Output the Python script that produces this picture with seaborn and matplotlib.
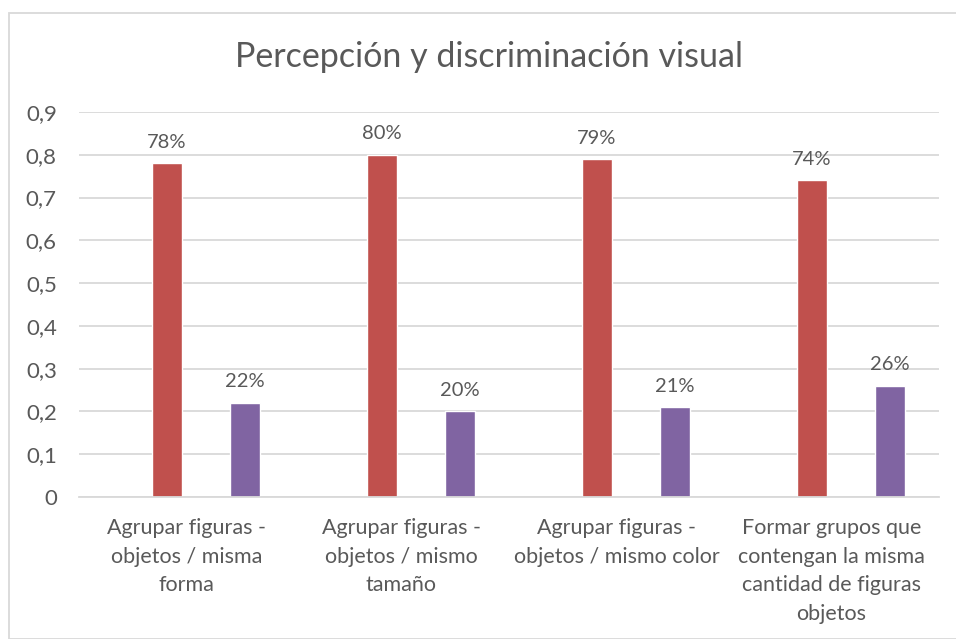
import pandas as pd
import matplotlib.pyplot as plt
import seaborn as sns
from matplotlib.ticker import FuncFormatter
from matplotlib.patches import Rectangle

categories = [
    "Agrupar figuras -\nobjetos / misma\nforma",
    "Agrupar figuras -\nobjetos / mismo\ntamaño",
    "Agrupar figuras -\nobjetos / mismo color",
    "Formar grupos que\ncontengan la misma\ncantidad de figuras\nobjetos",
]
series = ["Serie1", "Serie2", "Serie3", "Serie4"]
serie2 = [0.78, 0.80, 0.79, 0.74]
serie4 = [0.22, 0.20, 0.21, 0.26]
colors = ["#4F81BD", "#C0504D", "#9BBB59", "#8064A2"]

df = pd.concat([
    pd.DataFrame({"cat": categories, "serie": "Serie2", "valor": serie2}),
    pd.DataFrame({"cat": categories, "serie": "Serie4", "valor": serie4}),
])

sns.set_style("white")
plt.rcParams['font.family'] = ['Lato', 'DejaVu Sans']
text_color = "#595959"

fig = plt.figure(figsize=(9.56, 6.39), dpi=100)
ax = fig.add_axes([79 / 956, 1 - 497 / 639, 860 / 956, 385 / 639])

sns.barplot(
    data=df, x="cat", y="valor", hue="serie",
    hue_order=series, order=categories,
    palette=dict(zip(series, colors)), saturation=1,
    width=0.7256, gap=0.22, ax=ax, legend=False,
)

ax.set_ylim(0, 0.9)
ax.set_yticks([i / 10 for i in range(10)])
ax.yaxis.set_major_formatter(FuncFormatter(lambda v, p: "0" if v == 0 else f"{v:.1f}".replace(".", ",")))
ax.yaxis.grid(True, color="#D9D9D9", linewidth=1.3)
ax.set_axisbelow(True)
for s in ["top", "right", "left"]:
    ax.spines[s].set_visible(False)
ax.spines["bottom"].set_color("#D9D9D9")
ax.spines["bottom"].set_linewidth(1.3)
ax.tick_params(axis="y", length=0, pad=16, labelsize=16, labelcolor=text_color)
ax.tick_params(axis="x", length=0, pad=15, labelsize=15.5, labelcolor=text_color)
for lbl in ax.get_xticklabels():
    lbl.set_linespacing(1.55)
ax.set_xlabel("")
ax.set_ylabel("")

for container in ax.containers:
    labels = [f"{b.get_height() * 100:.0f}%" for b in container]
    ax.bar_label(container, labels=labels, padding=9, fontsize=14.5, color=text_color)

fig.text(489 / 956, 1 - 57 / 639, "Percepción y discriminación visual",
         ha="center", va="center", fontsize=24.5, color=text_color)

fig.patches.append(Rectangle((9 / 956, 0), 1.0, 1 - 13 / 639, transform=fig.transFigure,
                             fill=False, edgecolor="#D9D9D9", linewidth=1.3))

fig.savefig("out.png", dpi=100)
